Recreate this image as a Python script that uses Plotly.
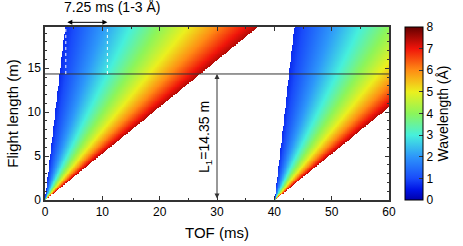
import numpy as np
import plotly.graph_objects as go

# ---- chart parameters ----
pulse_starts = [0, 40]          # ms, source pulses (25 Hz)
L1 = 14.35                      # m, detector distance
lambda_min = 0.7                # Å, lower edge of wavelength band
lambda_max = 7.45               # Å, upper edge of wavelength band
band_lo, band_hi = 1.0, 3.0     # Å, band marked at top
band_label = "7.25 ms (1-3 Å)"
x_range = [0, 60]
y_range = [0, 19.7]
x_ticks = [0, 10, 20, 30, 40, 50, 60]
y_ticks = [0, 5, 10, 15]
cbar_ticks = [0, 1, 2, 3, 4, 5, 6, 7, 8]
H_OVER_MN = 0.25278             # ms per (m·Å): TOF = 0.25278 * L * λ

# grid for the wavelength map
tof = np.linspace(x_range[0], x_range[1], 520)
length = np.linspace(0.02, y_range[1], 200)
T, Lg = np.meshgrid(tof, length)
Z = np.full(T.shape, np.nan)
for t0 in pulse_starts:
    lam = (T - t0) / (H_OVER_MN * Lg)
    ok = (lam >= lambda_min) & (lam <= lambda_max)
    Z = np.where(ok & np.isnan(Z), lam, Z)

jet = [
    [0.0, "rgb(0,0,170)"],
    [0.06, "rgb(0,20,230)"],
    [0.125, "rgb(25,75,250)"],
    [0.25, "rgb(45,150,250)"],
    [0.375, "rgb(70,240,220)"],
    [0.5, "rgb(140,245,90)"],
    [0.625, "rgb(235,240,30)"],
    [0.75, "rgb(255,140,20)"],
    [0.875, "rgb(240,20,10)"],
    [1.0, "rgb(100,0,0)"],
]

fig = go.Figure()
fig.add_trace(go.Heatmap(
    x=tof, y=length, z=Z, zmin=0, zmax=8, colorscale=jet, zsmooth=False,
    hoverongaps=False,
    colorbar=dict(
        x=1.0465, xanchor="left", y=0, yanchor="bottom", len=1, lenmode="fraction",
        thickness=18, outlinecolor="black", outlinewidth=1, xpad=0, ypad=0,
        tickvals=cbar_ticks, ticks="inside", ticklen=4, tickcolor="#333",
        tickfont=dict(size=12, color="black"),
        title=dict(text="Wavelength (Å)", side="right", font=dict(size=14, color="black")),
    ),
))

font_family = "Liberation Sans, Arial, Helvetica, sans-serif"

fig.update_layout(
    width=463, height=246,
    margin=dict(l=45, r=74, t=27, b=46, autoexpand=False),
    plot_bgcolor="white", paper_bgcolor="white",
    font=dict(family=font_family, size=12, color="black"),
    showlegend=False,
)
axis_common = dict(
    showline=True, linecolor="#333", linewidth=1.5, mirror="allticks",
    ticks="inside", ticklen=4, tickcolor="#333", showgrid=False, zeroline=False,
    tickfont=dict(size=12), automargin=False,
)
fig.update_xaxes(range=x_range, tickvals=x_ticks,
                 title=dict(text="TOF (ms)", font=dict(size=15), standoff=9),
                 minor=dict(dtick=5, ticks="inside", ticklen=2, tickcolor="#333"),
                 **axis_common)
fig.update_yaxes(range=y_range, tickvals=y_ticks,
                 title=dict(text="Flight length (m)", font=dict(size=15), standoff=5),
                 minor=dict(dtick=1, ticks="inside", ticklen=2, tickcolor="#333"),
                 **axis_common)

# horizontal line at detector distance
fig.add_shape(type="line", xref="paper", x0=0, x1=1, yref="y", y0=L1, y1=L1,
              line=dict(color="#333", width=1))

# dashed band markers
t_lo = H_OVER_MN * L1 * band_lo
t_hi = H_OVER_MN * L1 * band_hi
for tv in (t_lo, t_hi):
    fig.add_shape(type="line", xref="x", yref="y", x0=tv, x1=tv, y0=L1, y1=y_range[1],
                  line=dict(color="white", width=1, dash="dot"))

# top double arrow
fig.add_annotation(x=t_hi, y=1.027, xref="x", yref="paper",
                   ax=t_lo, ay=0, axref="x", ayref="pixel",
                   text="", showarrow=True, arrowhead=2, arrowside="end+start",
                   arrowsize=1, arrowwidth=1, arrowcolor="black")
fig.add_annotation(x=t_lo - 0.7, y=1.055, xref="x", yref="paper", text=band_label,
                   showarrow=False, xanchor="left", yanchor="bottom",
                   font=dict(size=14, color="black"))

# vertical L1 arrow
fig.add_annotation(x=30, y=L1, xref="x", yref="y", ax=30, ay=0, axref="x", ayref="y",
                   text="", showarrow=True, arrowhead=2, arrowside="end+start",
                   arrowsize=1, arrowwidth=1, arrowcolor="#333")
fig.add_annotation(x=27.9, y=L1 / 2, xref="x", yref="y",
                   text="L<sub>1</sub>=14.35 m", showarrow=False, textangle=-90,
                   font=dict(size=14, color="black"))

fig.write_html("out.html", config={"displayModeBar": False},
               post_script="document.body.style.margin='0';")
